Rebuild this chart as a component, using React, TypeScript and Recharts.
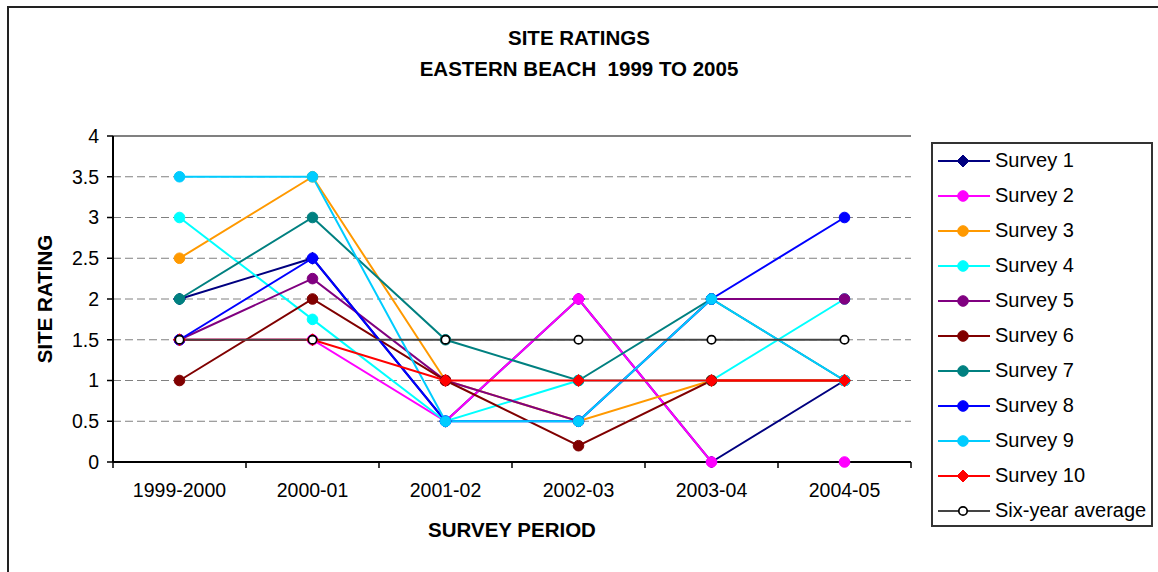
import React from 'react';
import { LineChart, Line, XAxis, YAxis, CartesianGrid, ReferenceLine } from 'recharts';

const categories = ['1999-2000', '2000-01', '2001-02', '2002-03', '2003-04', '2004-05'];
const yTicks = [0, 0.5, 1, 1.5, 2, 2.5, 3, 3.5, 4];

const survey1 = [2, 2.5, 0.5, 2, 0, 1];
const survey2 = [1.5, 1.5, 0.5, 2, 0, 0];
const survey3 = [2.5, 3.5, 1, 0.5, 1, 1];
const survey4 = [3, 1.75, 0.5, 1, 1, 2];
const survey5 = [1.5, 2.25, 1, 0.5, 2, 2];
const survey6 = [1, 2, 1, 0.2, 1, 1];
const survey7 = [2, 3, 1.5, 1, 2, 1];
const survey8 = [1.5, 2.5, 0.5, 0.5, 2, 3];
const survey9 = [3.5, 3.5, 0.5, 0.5, 2, 1];
const survey10 = [1.5, 1.5, 1, 1, 1, 1];
const sixYearAverage = [1.5, 1.5, 1.5, 1.5, 1.5, 1.5];

type Marker = 'circle' | 'diamond' | 'open';

const series: { key: string; name: string; values: number[]; color: string; marker: Marker }[] = [
  { key: 's1', name: 'Survey 1', values: survey1, color: '#000080', marker: 'diamond' },
  { key: 's2', name: 'Survey 2', values: survey2, color: '#FF00FF', marker: 'circle' },
  { key: 's3', name: 'Survey 3', values: survey3, color: '#FF9900', marker: 'circle' },
  { key: 's4', name: 'Survey 4', values: survey4, color: '#00FFFF', marker: 'circle' },
  { key: 's5', name: 'Survey 5', values: survey5, color: '#800080', marker: 'circle' },
  { key: 's6', name: 'Survey 6', values: survey6, color: '#800000', marker: 'circle' },
  { key: 's7', name: 'Survey 7', values: survey7, color: '#008080', marker: 'circle' },
  { key: 's8', name: 'Survey 8', values: survey8, color: '#0000FF', marker: 'circle' },
  { key: 's9', name: 'Survey 9', values: survey9, color: '#00CCFF', marker: 'circle' },
  { key: 's10', name: 'Survey 10', values: survey10, color: '#FF0000', marker: 'diamond' },
  { key: 'avg', name: 'Six-year average', values: sixYearAverage, color: '#444444', marker: 'open' },
];

const chartData = categories.map((period, i) => {
  const row: Record<string, string | number> = { period };
  series.forEach(s => { row[s.key] = s.values[i]; });
  return row;
});

const FONT = "'Liberation Sans', Arial, sans-serif";
const PLOT_LEFT = 113;
const PLOT_RIGHT = 911;
const PLOT_TOP = 136;
const PLOT_BOTTOM = 462;
const HALF_BAND = (PLOT_RIGHT - PLOT_LEFT) / categories.length / 2;

const MarkerShape = ({ marker, color, cx, cy }: { marker: Marker; color: string; cx: number; cy: number }) => {
  if (marker === 'diamond') {
    return <path d={`M${cx},${cy - 6}L${cx + 6},${cy}L${cx},${cy + 6}L${cx - 6},${cy}Z`} fill={color} stroke={color} />;
  }
  if (marker === 'open') {
    return <circle cx={cx} cy={cy} r={4.2} fill="#fff" stroke="#000" strokeWidth={1.7} />;
  }
  return <circle cx={cx} cy={cy} r={5.3} fill={color} stroke={color} />;
};

const makeDot = (marker: Marker, color: string) => (props: any) => {
  const { cx, cy, index } = props;
  if (cx == null || cy == null) return <g key={`e${index}`} />;
  return <MarkerShape key={`m${index}`} marker={marker} color={color} cx={cx} cy={cy} />;
};

const XTick = (props: any) => {
  const { x, y, payload, index } = props;
  return (
    <g>
      <line x1={x - HALF_BAND} x2={x - HALF_BAND} y1={y} y2={y + 6} stroke="#000" strokeWidth={1.5} />
      {index === categories.length - 1 && (
        <line x1={x + HALF_BAND} x2={x + HALF_BAND} y1={y} y2={y + 6} stroke="#000" strokeWidth={1.5} />
      )}
      <text x={x} y={y + 28} textAnchor="middle" dominantBaseline="central" fontFamily={FONT} fontSize={19.5} fill="#000">
        {payload.value}
      </text>
    </g>
  );
};

const ChartLegend = () => (
  <div
    style={{
      position: 'absolute',
      left: 931,
      top: 142,
      width: 222,
      height: 385,
      border: '2px solid #333',
      boxSizing: 'border-box',
      fontFamily: FONT,
      fontSize: 20,
      color: '#000',
    }}
  >
    {series.map((s, i) => (
      <div key={s.key} style={{ position: 'absolute', left: 5, top: -1 + i * 35, height: 35, display: 'flex', alignItems: 'center' }}>
        <svg width={52} height={16} style={{ marginRight: 5 }}>
          <line x1={0} x2={52} y1={8} y2={8} stroke={s.color} strokeWidth={2} />
          <MarkerShape marker={s.marker} color={s.color} cx={25} cy={8} />
        </svg>
        <span style={{ whiteSpace: 'nowrap' }}>{s.name}</span>
      </div>
    ))}
  </div>
);

export default function App() {
  return (
    <div style={{ position: 'absolute', left: 0, top: 0, width: 1158, height: 572, overflow: 'hidden', background: '#fff' }}>
      <div style={{ position: 'absolute', left: 7, top: 6, width: 1200, height: 600, borderTop: '2px solid #222', borderLeft: '2px solid #222' }} />
      <div style={{ position: 'absolute', left: 0, top: 0 }}>
        <LineChart
          width={1158}
          height={572}
          data={chartData}
          margin={{ top: PLOT_TOP, right: 1158 - PLOT_RIGHT, bottom: 572 - PLOT_BOTTOM - 40, left: PLOT_LEFT - 60 }}
        >
          <CartesianGrid horizontal vertical={false} stroke="#808080" strokeDasharray="8 4" />
          <XAxis
            dataKey="period"
            height={40}
            interval={0}
            padding={{ left: HALF_BAND, right: HALF_BAND }}
            axisLine={{ stroke: '#000', strokeWidth: 2 }}
            tickLine={false}
            tickSize={0}
            tickMargin={0}
            tick={<XTick />}
          />
          <YAxis
            width={60}
            domain={[0, 4]}
            ticks={yTicks}
            interval={0}
            axisLine={{ stroke: '#000', strokeWidth: 2 }}
            tickLine={{ stroke: '#000', strokeWidth: 1.5 }}
            tickSize={6}
            tickMargin={8}
            tick={{ fontFamily: FONT, fontSize: 19.5, fill: '#000' }}
          />
          <YAxis yAxisId="frame" orientation="right" width={0} tick={false} tickLine={false} axisLine={{ stroke: '#808080', strokeWidth: 2 }} />
          <ReferenceLine y={4} stroke="#808080" strokeWidth={2} />
          {series.map(s => (
            <Line
              key={s.key}
              type="linear"
              dataKey={s.key}
              name={s.name}
              stroke={s.color}
              strokeWidth={2}
              dot={makeDot(s.marker, s.color)}
              activeDot={false}
              isAnimationActive={false}
            />
          ))}
        </LineChart>
      </div>
      <div style={{ position: 'absolute', left: 0, width: 1158, top: 22, textAlign: 'center', fontFamily: FONT, fontWeight: 'bold', fontSize: 20.5, lineHeight: '31px', whiteSpace: 'pre', color: '#000' }}>
        {'SITE RATINGS\nEASTERN BEACH  1999 TO 2005'}
      </div>
      <div style={{ position: 'absolute', left: PLOT_LEFT, width: PLOT_RIGHT - PLOT_LEFT, top: 518, textAlign: 'center', fontFamily: FONT, fontWeight: 'bold', fontSize: 20.5, color: '#000' }}>
        SURVEY PERIOD
      </div>
      <div
        style={{
          position: 'absolute',
          left: 45 - 100,
          top: (PLOT_TOP + PLOT_BOTTOM) / 2 - 12,
          width: 200,
          height: 24,
          lineHeight: '24px',
          textAlign: 'center',
          transform: 'rotate(-90deg)',
          fontFamily: FONT,
          fontWeight: 'bold',
          fontSize: 20.5,
          color: '#000',
        }}
      >
        SITE RATING
      </div>
      <ChartLegend />
    </div>
  );
}
